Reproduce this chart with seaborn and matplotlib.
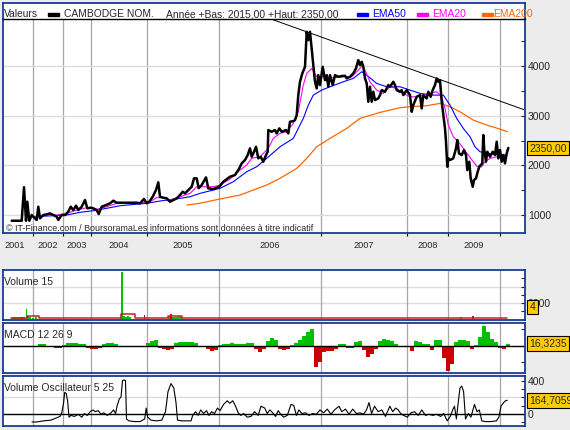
import matplotlib
matplotlib.use('Agg')
import matplotlib.pyplot as plt
from matplotlib.patches import Rectangle
import seaborn as sns
import numpy as np

# ---------------------------------------------------------------
# Data (x = bar number on the session axis)
# ---------------------------------------------------------------
year_labels = ['2001', '2002', '2003', '2004', '2005', '2006', '2007', '2008', '2009']
year_starts = [-3, 33, 63, 91, 147, 219, 321, 407, 448, 500]

price_x = [11.7, 21.7, 24, 26, 27.3, 29.3, 31.7, 33.3, 36.7, 38.3, 40, 43.3, 46.7, 50, 53.3,
           56.7, 58.3, 61.7, 65, 68.3, 70.7, 73.3, 76, 78.3, 81.7, 85, 87.3, 90.7, 93.3, 96.7,
           98.7, 101.7, 106, 110, 113.3, 116.7, 126.7, 136.7, 140, 144, 146.7, 149.3, 152.7, 156,
           158.3, 160, 163.3, 166.7, 170, 173.3, 176.7, 180, 182.7, 185, 188.3, 191.7, 194, 196.7,
           198.7, 201.7, 206, 208.3, 213.3, 219.3, 223.3, 230, 235, 239.3, 241.7, 245, 247.7, 250,
           251.7, 254, 256, 258.3, 260.7, 263.3, 266, 267.7, 268.3, 271.7, 275, 276.7, 279.3, 281.7,
           286, 288.3, 290, 293.3, 295, 296.7, 298.3, 300, 302.3, 305, 306.7, 308.3, 310, 311.7,
           313.3, 315, 316.7, 318.3, 320, 322.7, 325, 326.7, 328.3, 330, 332.7, 335, 338.3, 341.7,
           345, 346.7, 350, 353.3, 356, 358.3, 360, 361.7, 363.3, 365, 366.7, 368.3, 370, 371.7,
           373.3, 375, 378.3, 380, 381.7, 385, 388.3, 390, 393.3, 395, 396.7, 400, 401.7, 403.3,
           406.7, 410, 411.7, 413.3, 416.7, 420, 421.7, 423.3, 426.7, 428.3, 430.7, 432.7, 435,
           436.7, 438.3, 440, 441.7, 443.3, 445, 446, 447.3, 448.3, 450, 453.3, 456, 457.3, 459,
           461.7, 464, 466, 467.3, 469.3, 470.7, 472.7, 474, 476, 477.7, 479.3, 480.7, 482.3, 483.3,
           484.3, 486, 487.3, 490, 492.7, 495, 496.7, 498.3, 500, 501.7, 503.3, 505, 506.7, 508.3]
price_v = [885, 885, 1560, 885, 1268, 885, 1000, 966, 900, 1167, 933, 1000, 1013, 1033, 1000,
           966, 900, 1000, 1000, 1067, 1167, 1100, 1187, 1100, 1167, 1302, 1135, 1147, 1135, 1100,
           1020, 1167, 1200, 1235, 1288, 1248, 1248, 1248, 1235, 1322, 1235, 1268, 1368, 1503,
           1658, 1368, 1348, 1335, 1268, 1302, 1335, 1402, 1469, 1436, 1503, 1569, 1738, 1738,
           1540, 1604, 1758, 1537, 1523, 1569, 1670, 1771, 1805, 1939, 2040, 2107, 2207, 2342,
           2173, 2274, 2374, 2141, 2173, 2073, 2207, 2274, 2710, 2676, 2710, 2643, 2744, 2676,
           2710, 2643, 2877, 2891, 2911, 3012, 3414, 3682, 3851, 3984, 4688, 4521, 4688, 4354,
           4018, 3682, 3548, 3816, 3616, 3984, 3716, 3816, 3582, 3816, 3616, 3816, 3783, 3797,
           3803, 3750, 3783, 3851, 3952, 4119, 4018, 4085, 3984, 3750, 3649, 3280, 3582, 3280,
           3481, 3314, 3348, 3414, 3515, 3481, 3616, 3582, 3682, 3616, 3515, 3481, 3515, 3414,
           3515, 3414, 3078, 3213, 3380, 3414, 3146, 3414, 3348, 3481, 3380, 3515, 3616,
           3750, 3682, 3716, 3280, 3012, 2744, 2475, 1972, 2141, 2107, 2141, 2342, 2509, 2241,
           2207, 2308, 2207, 1905, 2073, 1738, 1569, 1704, 1738, 1872, 1972, 2006, 2040, 2610,
           2308, 2073, 2274, 2173, 2274, 2207, 2475, 2141, 2308, 2073, 2207, 2040, 2241, 2350]

ema20_x = [33.3, 43.3, 56.7, 66.7, 76.7, 86.7, 96.7, 106.7, 116.7, 140, 150, 156.7, 163.3, 170,
           180, 190, 196.7, 206.7, 213.3, 220, 230, 240, 246.7, 251.7, 260, 268.3, 273.3, 280,
           286.7, 293.3, 298.3, 303.3, 306.7, 311.7, 316.7, 321.7, 326.7, 333.3, 343.3, 351.7,
           358.3, 362.7, 365, 370, 376.7, 383.3, 390, 396.7, 403.3, 410, 416.7, 423.3, 430, 436.7,
           441.7, 445, 448.3, 453.3, 458.3, 463.3, 468.3, 473.3, 477.3, 481.7, 485, 490, 496.7,
           503.3, 506.7]
ema20_v = [966, 986, 1000, 1033, 1100, 1147, 1114, 1167, 1235, 1248, 1268, 1348, 1348, 1302,
           1368, 1436, 1569, 1569, 1569, 1604, 1724, 1905, 2006, 2141, 2173, 2342, 2543, 2643,
           2676, 2845, 3078, 3616, 3851, 3952, 3783, 3783, 3783, 3763, 3783, 3783, 3917, 4018,
           3917, 3682, 3515, 3449, 3582, 3548, 3449, 3380, 3380, 3414, 3449, 3481, 3380, 3146,
           2811, 2576, 2475, 2342, 2207, 2073, 1972, 1972, 2073, 2141, 2173, 2141, 2173]

ema50_x = [33.3, 46.7, 66.7, 80, 93.3, 106.7, 120, 146.7, 160, 180, 190, 200, 220, 233.3,
           246.7, 256.7, 266.7, 280, 293.3, 303.3, 308.3, 313.3, 321.7, 330, 343.3, 353.3, 361.7,
           366.7, 376.7, 386.7, 400, 410, 420, 433.3, 443.3, 450, 456.7, 463.3, 470, 475, 480,
           486.7, 496.7, 506.7]
ema50_v = [966, 980, 1000, 1054, 1087, 1135, 1187, 1235, 1282, 1335, 1368, 1436, 1537, 1670,
           1872, 1972, 2141, 2374, 2543, 2945, 3213, 3414, 3515, 3582, 3682, 3750, 3884, 3816,
           3649, 3582, 3582, 3515, 3449, 3414, 3414, 3213, 2945, 2744, 2576, 2374, 2274, 2241,
           2221, 2207]

ema200_x = [186.7, 199.3, 220, 240, 266.7, 280, 296.7, 306.7, 316.7, 330, 346.7, 360, 380,
            400, 410, 426.7, 440, 450, 460, 473.3, 486.7, 500, 507.3]
ema200_v = [1200, 1235, 1322, 1402, 1604, 1738, 1939, 2141, 2374, 2543, 2744, 2945, 3066,
            3160, 3180, 3200, 3247, 3180, 3079, 2911, 2811, 2730, 2676]

trend_x = [270, 525]
trend_v = [4953, 3113]

vol_x = [12, 14, 16, 18, 20, 22, 24, 26.5, 28, 30, 33, 36, 121, 122, 124, 126, 128, 130,
         144.5, 169, 171, 173, 175, 177, 179, 181, 461, 473]
vol_v = [120, 200, 150, 250, 180, 200, 150, 1200, 300, 150, 120, 200, 250, 5750, 300, 200,
         350, 200, 400, 300, 600, 200, 250, 150, 300, 150, 250, 300]
vol_up = [1, 1, 1, 1, 1, 0, 1, 1, 1, 1, 1, 1, 1, 1, 1, 1, 1, 1,
          0, 1, 0, 1, 1, 1, 1, 1, 1, 0]
volma_x = [11, 27, 27, 39, 39, 121, 121, 135, 135, 168, 168, 182, 182, 507]
volma_v = [30, 30, 260, 260, 30, 30, 600, 600, 30, 30, 300, 300, 30, 30]

macd_x = np.arange(40, 509, 4)
macd_v = [14, 16, -8, -10, -22, -26, 6, 24, 26, 24, 18, 14, -24, -32, -30, -18, 18, 22, 20, 18,
          -8, -10, -10, -10, -10, -9, -8, 20, 38, 52, -20, -35, -38, -30, 22, 30, 32, 30, 32, 28,
          -14, -16, -35, -45, -38, 8, 18, 18, 20, 17, 18, 16, 20, 28, -30, -55, -35, 40, 68, 50,
          -30, -38, -35, 10, 20, 55, 90, 120, 150, -200, -150, -60, -45, -50, -30, 15, 12, -20,
          -18, 35, 40, -40, -105, -80, -30, 40, 60, 55, 40, 12, -15, -14, -10, -50, 40, 30, 18,
          15, -40, 50, 55, -110, -230, -170, 30, 50, 48, 45, -30, 10, 80, 180, 120, 60, 30, -20,
          -28, 16]

vosc_x = [32, 36.4, 43.6, 51, 56.4, 60, 61.8, 63.6, 64.7, 66.2, 67.6, 69, 70.9, 74.5, 78.2,
          81.8, 84.4, 87.3, 90.2, 93, 95.3, 98.2, 101, 103.6, 107.3, 111, 113.5, 115.6, 117,
          119.3, 121, 122.5, 124.4, 125.5, 126.5, 129, 134.5, 140, 144.7, 146.2, 147.6, 151,
          156.4, 161.8, 165.5, 168, 171, 173.8, 176, 177.5, 181.8, 191, 192.7, 195.6, 198.2,
          200.7, 203.6, 206.5, 209, 211.6, 214.5, 217.5, 220, 223.6, 227.3, 229.8, 232.7, 235.6,
          238.2, 240.7, 243.6, 247.3, 251, 254.5, 258.2, 261, 264.7, 267.3, 269.8, 272.7, 275.6,
          278.2, 280.7, 283.6, 287.3, 291, 293.8, 296.4, 299, 301.8, 305.5, 309, 312.7, 316.4,
          320, 323.6, 327.3, 331, 334.5, 339, 341.8, 345.5, 349, 352.7, 356.4, 360, 363.6, 366.5,
          369, 371.6, 374.5, 378.2, 381.8, 385.5, 389.8, 392.7, 395.6, 398.2, 400.7, 403.6,
          407.3, 411, 414.5, 418.2, 421.8, 425.5, 429, 432.7, 436.4, 440.7, 443.6, 447.3, 450.2,
          452.7, 454.5, 456.4, 458.2, 460, 461.8, 463.6, 465.5, 468.4, 470.9, 474.5, 477, 479.3,
          481.8, 485.5, 490.9, 496.4, 498.9, 501, 503.6, 505.5, 507.3]
vosc_v = [-105, -105, -91, -82, -55, -36, 9, 136, 264, 250, 159, -45, -23, -36, -9, -45, 0,
          -23, 23, 45, 23, 36, -9, 9, -23, 9, 45, 0, 91, 182, 205, 409, 418, 409, -68, -91,
          -100, -100, -68, 68, -45, -82, -91, -82, 23, 273, 373, 318, 136, -82, -91, -91, -23,
          23, -23, 45, 0, 36, -23, 23, 0, 68, 36, 114, 159, 127, 159, 91, 9, -23, 0, -45, -36,
          23, -23, 91, 68, 0, 45, 9, -36, 36, -9, -45, -23, 114, 100, -23, 45, 0, 9, -23, 0, -9,
          45, 9, 55, -9, 45, 91, 23, 55, -9, 55, 0, 9, -9, 45, 136, 0, 91, 23, 45, -36, 91, 23,
          68, 45, 0, -23, -45, 9, 23, -23, 45, -23, -9, -23, -9, -36, 0, -91, -36, 45, 91, -68,
          136, 318, 341, 273, -68, 0, -45, 114, 23, 45, -91, -100, -100, -91, -45, 91, 136, 159,
          165]

last_price = '2350,00'
last_volume = '4'
last_macd = '16,3235'
last_vosc = '164,7059'

# ---------------------------------------------------------------
W, H = 570, 430
BG = '#ECECEC'
FRAME = '#1a3a94'
GRID_V = '#A6A6A6'
GRID_H = '#DCDCDC'
X_MIN, X_MAX = 3, 525


def px_box(top, bottom, left=X_MIN, right=X_MAX):
    return [left / W, 1 - bottom / H, (right - left) / W, (bottom - top) / H]


def fig_text(fig, x, y, s, **kw):
    # position given in pixels from the top-left corner
    return fig.text(x / W, 1 - y / H, s, **kw)


def frame(ax, top_color=FRAME):
    for name, s in ax.spines.items():
        s.set_visible(True)
        s.set_color(FRAME)
        s.set_linewidth(1.3)
    ax.spines['top'].set_color(top_color)


def lower_panel(ax, ylim, yticks, yticklabels):
    ax.set_facecolor('white')
    ax.set_xlim(X_MIN, X_MAX)
    ax.set_ylim(*ylim)
    ax.set_xticks(year_starts[1:])
    ax.tick_params(axis='x', which='both', bottom=False, labelbottom=False)
    ax.xaxis.grid(True, color=GRID_V, lw=0.9)
    ax.set_axisbelow(True)
    ax.yaxis.tick_right()
    ax.set_yticks(yticks)
    ax.set_yticklabels(yticklabels)
    ax.tick_params(axis='y', direction='in', length=3, width=0.8, pad=2,
                   labelsize=7.5, right=True, left=False)
    ax.set_xlabel('')
    ax.set_ylabel('')
    frame(ax)


def yellow_box(fig, y, s):
    fig_text(fig, 529.5, y, s, ha='left', va='center', fontsize=7.5, zorder=10,
             bbox=dict(boxstyle='square,pad=0.22', fc='#FFCC00', ec='black', lw=0.8))


def main():
    sns.set_theme(style='white')
    plt.rcParams['font.family'] = ['Liberation Sans', 'DejaVu Sans']

    fig = plt.figure(figsize=(W / 100, H / 100), dpi=100, facecolor=BG)

    # --- legend strip ---
    ax_leg = fig.add_axes(px_box(3, 19))
    ax_leg.set_xlim(X_MIN, X_MAX)
    ax_leg.set_ylim(19, 3)
    ax_leg.set_xticks([])
    ax_leg.set_yticks([])
    frame(ax_leg)
    ax_leg.spines['bottom'].set_visible(False)
    ax_leg.add_patch(Rectangle((48, 12.6), 11, 3.4, color='black'))
    ax_leg.add_patch(Rectangle((357, 12.6), 10.5, 3.4, color='#0000FF'))
    ax_leg.add_patch(Rectangle((417, 12.6), 10.5, 3.4, color='#FF00FF'))
    ax_leg.add_patch(Rectangle((482, 12.6), 10.5, 3.4, color='#FF6600'))
    fs = 7.4
    fig_text(fig, 4, 17.3, 'Valeurs', fontsize=fs, va='baseline')
    fig_text(fig, 64, 17.3, 'CAMBODGE NOM.', fontsize=fs, va='baseline')
    fig_text(fig, 166, 17.3, 'Année +Bas: 2015,00 +Haut: 2350,00', fontsize=fs, va='baseline')
    fig_text(fig, 372.5, 17.3, 'EMA50', fontsize=fs, va='baseline', color='#0000FF')
    fig_text(fig, 432.5, 17.3, 'EMA20', fontsize=fs, va='baseline', color='#FF00FF')
    fig_text(fig, 493, 17.3, 'EMA200', fontsize=fs, va='baseline', color='#FF6600')

    # --- main price panel ---
    ax = fig.add_axes(px_box(19, 233))
    ax.set_facecolor('white')
    sns.lineplot(x=trend_x, y=trend_v, ax=ax, color='black', linewidth=0.7,
                 estimator=None, sort=False)
    sns.lineplot(x=ema200_x, y=ema200_v, ax=ax, color='#FF6600', linewidth=0.9,
                 estimator=None, sort=False)
    sns.lineplot(x=ema50_x, y=ema50_v, ax=ax, color='#0000FF', linewidth=0.8,
                 estimator=None, sort=False)
    sns.lineplot(x=ema20_x, y=ema20_v, ax=ax, color='#FF00FF', linewidth=0.8,
                 estimator=None, sort=False)
    sns.lineplot(x=price_x, y=price_v, ax=ax, color='black', linewidth=1.8,
                 estimator=None, sort=False)
    ax.set_xlim(X_MIN, X_MAX)
    ax.set_ylim(638, 4946)
    ax.set_xlabel('')
    ax.set_ylabel('')

    mids = [(a + b) / 2 for a, b in zip(year_starts[:-1], year_starts[1:])]
    ax.set_xticks(year_starts[1:])
    ax.set_xticklabels([])
    ax.set_xticks(mids, minor=True)
    ax.set_xticklabels(year_labels, minor=True)
    ax.tick_params(axis='x', which='major', bottom=True, direction='out', length=2.5,
                   width=0.8, color='black')
    ax.tick_params(axis='x', which='minor', bottom=True, length=0, pad=5.5, labelsize=6.6)
    ax.xaxis.grid(True, which='major', color=GRID_V, lw=0.9)

    ax.yaxis.tick_right()
    ax.set_yticks([1000, 2000, 3000, 4000])
    ax.set_yticklabels(['1000', '2000', '3000', '4000'])
    ax.set_yticks([1500, 2500, 3500, 4500], minor=True)
    ax.tick_params(axis='y', which='both', direction='in', length=3, width=0.8, pad=2,
                   labelsize=7.5, right=True, left=False)
    ax.yaxis.grid(True, which='major', color=GRID_H, lw=1.0)
    ax.set_axisbelow(True)
    frame(ax, top_color='black')
    ax.spines['top'].set_linewidth(1.0)

    fig_text(fig, 6, 231, '© IT-Finance.com / BoursoramaLes informations sont données à titre indicatif',
             fontsize=6.4, va='baseline')
    yellow_box(fig, 148, last_price)

    # --- volume panel ---
    ax_vol = fig.add_axes(px_box(270, 319.5))
    colors = ['#00C000' if u else '#CC0000' for u in vol_up]
    ax_vol.bar(vol_x, vol_v, width=1.3, color=colors, linewidth=0, zorder=2)
    sns.lineplot(x=volma_x, y=volma_v, ax=ax_vol, color='#CC2020', linewidth=1.1,
                 estimator=None, sort=False)
    lower_panel(ax_vol, (-120, 6060), [1000, 2000, 3000, 4000, 5000],
                ['', '2000', '', '', ''])
    for lvl in [2000, 4000]:
        ax_vol.axhline(lvl, color=GRID_H, lw=1.0, zorder=0.5)
    fig_text(fig, 4, 285, 'Volume 15', fontsize=7.5, va='baseline')
    yellow_box(fig, 307, last_volume)

    # --- MACD panel ---
    ax_macd = fig.add_axes(px_box(323, 373))
    mcol = ['#00C000' if v >= 0 else '#CC0000' for v in macd_v]
    ax_macd.bar(macd_x, macd_v, width=4.05, color=mcol, linewidth=0)
    ax_macd.axhline(0, color='black', lw=1.0)
    lower_panel(ax_macd, (-251, 207), [-150, 0, 150], ['', '', ''])
    fig_text(fig, 4, 338, 'MACD 12 26 9', fontsize=7.5, va='baseline')
    yellow_box(fig, 343.5, last_macd)

    # --- volume oscillator panel ---
    ax_osc = fig.add_axes(px_box(376, 426.4))
    ax_osc.axhline(200, color=GRID_H, lw=1.0, zorder=0.5)
    ax_osc.axhline(0, color='black', lw=1.0)
    sns.lineplot(x=vosc_x, y=vosc_v, ax=ax_osc, color='black', linewidth=0.8,
                 estimator=None, sort=False)
    lower_panel(ax_osc, (-160, 467), [-100, 0, 100, 200, 300, 400],
                ['', '0', '', '', '', '400'])
    fig_text(fig, 4, 391, 'Volume Oscillateur 5 25', fontsize=7.5, va='baseline')
    yellow_box(fig, 400.5, last_vosc)

    fig.savefig('out.png', dpi=100, facecolor=BG)
    plt.close(fig)


if __name__ == '__main__':
    main()
